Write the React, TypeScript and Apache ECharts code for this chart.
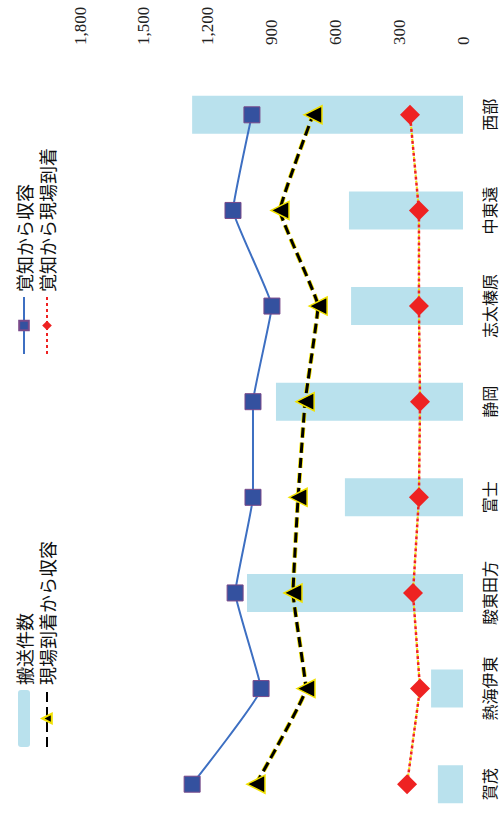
import React, { useEffect, useRef } from "react";
import * as echarts from "echarts";

const categories = ["賀茂", "熱海伊東", "駿東田方", "富士", "静岡", "志太榛原", "中東遠", "西部"];
const transportCounts = [118, 150, 1015, 555, 879, 526, 536, 1273];
const callToAdmission = [1273, 949, 1071, 987, 987, 898, 1081, 992];
const arrivalToAdmission = [973, 738, 799, 775, 742, 681, 860, 705];
const callToArrival = [263, 202, 235, 207, 202, 207, 207, 249];
const valueTicks = { min: 0, max: 1800, interval: 300 };

const SERIF = "'Liberation Serif', 'DejaVu Serif', serif";
const JP = "'Noto Sans CJK JP', 'Noto Sans', sans-serif";

export default function App() {
  const ref = useRef<HTMLDivElement>(null);
  useEffect(() => {
    if (!ref.current) return;
    const chart = echarts.init(ref.current, undefined, { renderer: "svg" });
    const legendText = { fontFamily: JP, fontSize: 18, color: "#111", lineHeight: 18 };
    chart.setOption({
      animation: false,
      backgroundColor: "#fff",
      legend: [
        {
          orient: "vertical",
          left: 79,
          top: 10,
          itemWidth: 57,
          itemHeight: 12,
          itemGap: 5,
          textStyle: legendText,
          data: ["搬送件数", "現場到着から収容"],
        },
        {
          orient: "vertical",
          left: 472,
          top: 10,
          itemWidth: 57,
          itemHeight: 12,
          itemGap: 5,
          textStyle: legendText,
          data: ["覚知から収容", "覚知から現場到着"],
        },
      ],
      grid: { left: -19, right: 67, top: 80, bottom: 37 },
      xAxis: {
        type: "category",
        data: categories,
        axisLine: { show: false },
        axisTick: { show: false },
        axisLabel: { margin: 18, fontFamily: JP, fontSize: 16, color: "#111", interval: 0 },
      },
      yAxis: {
        type: "value",
        position: "right",
        min: valueTicks.min,
        max: valueTicks.max,
        interval: valueTicks.interval,
        splitLine: { show: false },
        axisLine: { show: false },
        axisTick: { show: false },
        axisLabel: {
          margin: 22,
          fontFamily: SERIF,
          fontSize: 17,
          color: "#222",
          formatter: (v: number) => v.toLocaleString("en-US"),
        },
      },
      series: [
        {
          name: "搬送件数",
          type: "bar",
          data: transportCounts,
          barWidth: 38,
          itemStyle: { color: "#b9e1ed" },
          z: 1,
        },
        {
          name: "覚知から収容",
          type: "line",
          data: callToAdmission,
          smooth: 0.08,
          symbol: "rect",
          symbolSize: 16,
          lineStyle: { color: "#3d6fc2", width: 2 },
          itemStyle: { color: "#34519f", borderColor: "#7a4a8a", borderWidth: 1 },
          z: 5,
        },
        {
          name: "_arrivalOutline",
          type: "line",
          data: arrivalToAdmission,
          smooth: 0.08,
          symbol: "none",
          lineStyle: { color: "#f2e200", width: 4.5, type: [10, 5] },
          z: 3,
          silent: true,
        },
        {
          name: "現場到着から収容",
          type: "line",
          data: arrivalToAdmission,
          smooth: 0.08,
          symbol: "triangle",
          symbolSize: 18,
          lineStyle: { color: "#000", width: 3, type: [10, 5] },
          itemStyle: { color: "#000", borderColor: "#f2e200", borderWidth: 1.5 },
          z: 4,
        },
        {
          name: "_arrivalYellow",
          type: "line",
          data: callToArrival,
          symbol: "none",
          lineStyle: { color: "#f2e200", width: 2, type: [2, 4], dashOffset: 3 },
          z: 3,
          silent: true,
        },
        {
          name: "覚知から現場到着",
          type: "line",
          data: callToArrival,
          symbol: "diamond",
          symbolSize: 20,
          lineStyle: { color: "#ee2222", width: 2.5, type: [3, 3] },
          itemStyle: { color: "#ee2222" },
          z: 4,
        },
      ],
    });
    return () => chart.dispose();
  }, []);
  return (
    <div
      style={{
        position: "fixed",
        left: 0,
        top: 0,
        width: 500,
        height: 832,
        overflow: "hidden",
        background: "#fff",
      }}
    >
      <div
        ref={ref}
        style={{
          position: "absolute",
          left: 0,
          top: 0,
          width: 832,
          height: 500,
          transformOrigin: "0 0",
          transform: "translate(0px, 832px) rotate(-90deg)",
        }}
      />
    </div>
  );
}
